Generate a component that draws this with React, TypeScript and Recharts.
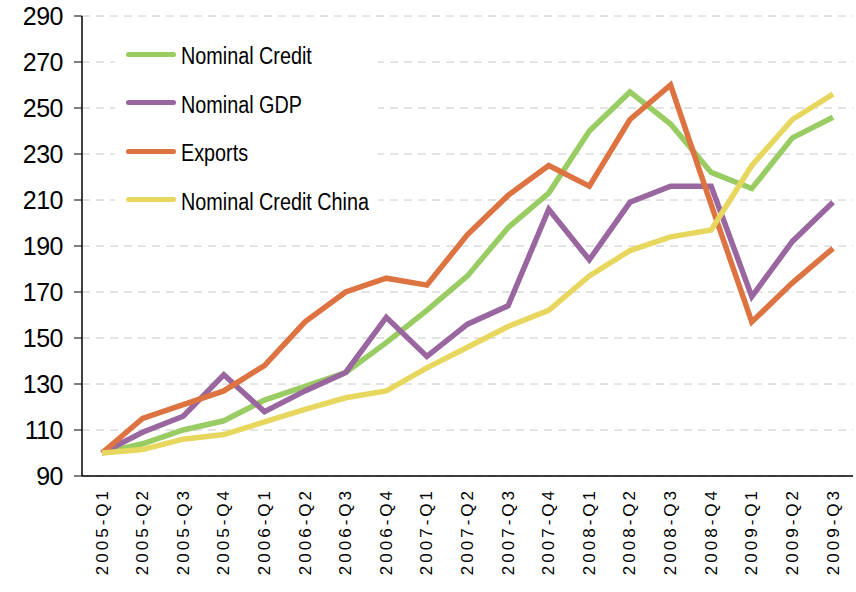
import { CartesianGrid, Line, LineChart, XAxis, YAxis } from "recharts";

const quarters = [
  "2005-Q1", "2005-Q2", "2005-Q3", "2005-Q4",
  "2006-Q1", "2006-Q2", "2006-Q3", "2006-Q4",
  "2007-Q1", "2007-Q2", "2007-Q3", "2007-Q4",
  "2008-Q1", "2008-Q2", "2008-Q3", "2008-Q4",
  "2009-Q1", "2009-Q2", "2009-Q3",
];
const nominalCredit = [100, 104, 110, 114, 123, 129, 135, 148, 162, 177, 198, 213, 240, 257, 243, 222, 215, 237, 246];
const nominalGdp = [100, 109, 116, 134, 118, 127, 135, 159, 142, 156, 164, 206, 184, 209, 216, 216, 168, 192, 209];
const exportsIdx = [100, 115, 121, 127, 138, 157, 170, 176, 173, 195, 212, 225, 216, 245, 260, 208, 157, 174, 189];
const creditChina = [100, 101.5, 106, 108, 113.5, 119, 124, 127, 137, 146, 155, 162, 177, 188, 194, 197, 225, 245, 256];
const yTicks = [90, 110, 130, 150, 170, 190, 210, 230, 250, 270, 290];
const boundaryTicks = quarters.map((_, i) => i).concat(quarters.length);

const series = [
  { key: "credit", name: "Nominal Credit", color: "#99cc62" },
  { key: "gdp", name: "Nominal GDP", color: "#9966a0" },
  { key: "exports", name: "Exports", color: "#dd7340" },
  { key: "china", name: "Nominal Credit China", color: "#e8d75e" },
];

const data = quarters.map((quarter, i) => ({
  quarter,
  credit: nominalCredit[i],
  gdp: nominalGdp[i],
  exports: exportsIdx[i],
  china: creditChina[i],
}));

const sans = "'Liberation Sans', Arial, sans-serif";

function QuarterTick({ x, y, payload }: any) {
  const ty = y + 4;
  return (
    <text
      x={x}
      y={ty}
      transform={`rotate(-90 ${x} ${ty})`}
      textAnchor="end"
      dominantBaseline="central"
      fontFamily={sans}
      fontSize={17}
      letterSpacing={3}
      fill="#000"
    >
      {payload.value}
    </text>
  );
}

function ValueTick({ y, payload }: any) {
  return (
    <text
      x={63}
      y={y}
      textAnchor="end"
      dominantBaseline="central"
      fontFamily={sans}
      fontSize={25}
      letterSpacing={-0.5}
      fill="#000"
    >
      {payload.value}
    </text>
  );
}

function LegendBox() {
  return (
    <div
      style={{
        position: "absolute",
        left: 115,
        top: 30,
        width: 263,
        height: 195,
        background: "#fff",
      }}
    >
      {series.map((s, i) => (
        <div
          key={s.key}
          style={{
            position: "absolute",
            left: 11,
            top: 10 + i * 48.5,
            display: "flex",
            alignItems: "center",
            height: 28,
            whiteSpace: "nowrap",
          }}
        >
          <div style={{ width: 50, height: 5, borderRadius: 3, background: s.color }} />
          <span
            style={{
              marginLeft: 5,
              fontFamily: sans,
              fontSize: 23,
              color: "#000",
              lineHeight: "28px",
              display: "inline-block",
              transform: "translateY(2px) scaleX(0.86)",
              transformOrigin: "left center",
            }}
          >
            {s.name}
          </span>
        </div>
      ))}
    </div>
  );
}

export default function App() {
  return (
    <div style={{ position: "absolute", left: 0, top: 0, width: 856, height: 592, background: "#fff" }}>
      <LineChart
        width={856}
        height={592}
        data={data}
        margin={{ top: 16, right: 3, left: 0, bottom: 0 }}
        accessibilityLayer={false}
      >
        <CartesianGrid vertical={false} stroke="#c8c8c8" strokeDasharray="8 6" />
        <XAxis
          xAxisId="bounds"
          type="number"
          domain={[0, quarters.length]}
          ticks={boundaryTicks}
          interval={0}
          tick={false}
          tickLine={{ stroke: "#000" }}
          tickSize={6}
          axisLine={false}
          height={0}
          allowDataOverflow
        />
        <XAxis
          dataKey="quarter"
          interval={0}
          padding={{ left: 20, right: 20 }}
          tickLine={false}
          axisLine={{ stroke: "#000", strokeWidth: 1.5 }}
          height={116}
          tick={<QuarterTick />}
        />
        <YAxis
          domain={[90, 290]}
          ticks={yTicks}
          interval={0}
          width={82}
          axisLine={{ stroke: "#000", strokeWidth: 1.5 }}
          tickLine={{ stroke: "#000" }}
          tickSize={8}
          tick={<ValueTick />}
        />
        {series.map((s) => (
          <Line
            key={s.key}
            dataKey={s.key}
            name={s.name}
            stroke={s.color}
            strokeWidth={5.5}
            dot={false}
            isAnimationActive={false}
          />
        ))}
      </LineChart>
      <LegendBox />
    </div>
  );
}
